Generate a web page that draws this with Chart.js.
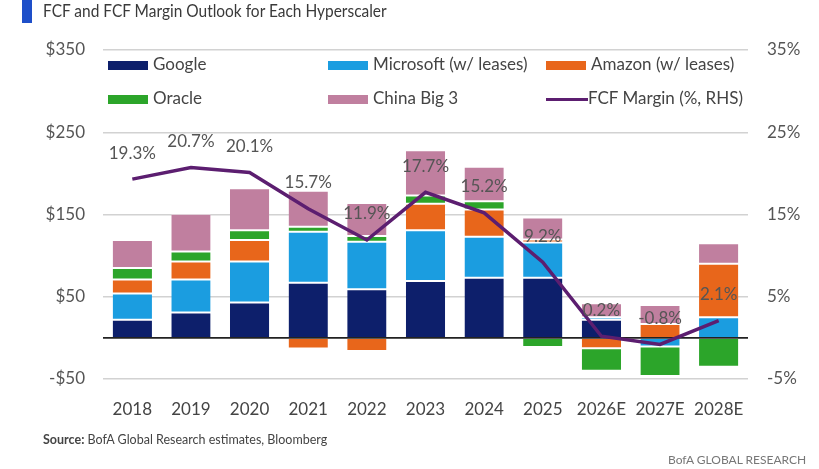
<!DOCTYPE html>
<html>
<head>
<meta charset="utf-8">
<script src="https://cdn.jsdelivr.net/npm/chart.js@4.4.1/dist/chart.umd.min.js"></script>
<style>
  html, body { margin:0; padding:0; background:#fff; }
  body { width:819px; height:469px; position:relative; overflow:hidden; font-family: Lato, "Open Sans", sans-serif; }
  #wrap { position:absolute; left:0; top:0; width:819px; height:469px; }
  #bar { position:absolute; left:22px; top:0; width:10px; height:23px; background:#1e4fc9; }
  #title { position:absolute; left:43px; top:0px; font-size:17px; color:#3a3a3a; line-height:22px; white-space:nowrap; transform:scaleX(0.91); transform-origin:0 0; }
  #legend { position:absolute; left:0; top:0; width:819px; height:120px; pointer-events:none; }
  .li { position:absolute; font-size:17px; color:#444; white-space:nowrap; line-height:20px; }
  .sw { position:absolute; width:40px; height:9px; }
  .ln { position:absolute; width:42px; height:3px; background:#5c1e70; }
  #source { position:absolute; left:43px; top:432px; font-size:12.5px; color:#444; white-space:nowrap; }
  #brand { position:absolute; left:668px; top:452px; font-size:12px; color:#777; white-space:nowrap; }
</style>
</head>
<body>
<div id="wrap"><canvas id="c" width="819" height="469"></canvas></div>
<div id="bar"></div>
<div id="title">FCF and FCF Margin Outlook for Each Hyperscaler</div>
<div id="legend"></div>
<div id="source"><b>Source:</b> BofA Global Research estimates, Bloomberg</div>
<div id="brand">BofA GLOBAL RESEARCH</div>
<script>
const categories = ["2018","2019","2020","2021","2022","2023","2024","2025","2026E","2027E","2028E"];
const google    = [22, 31, 43, 67, 59, 69, 73, 73, 22, 0, 0];
const microsoft = [32, 40, 50, 62, 58, 62, 50, 43, 3, -10.5, 25];
const amazon    = [17, 22, 26, -13, -16, 32, 33, 3.5, -12.5, 17, 65];
const oracle    = [14, 12, 12, 6, 7, 10, 10, -11, -27.5, -36, -35];
const china     = [34, 46, 51, 44, 40, 55, 42, 27, 17, 23, 25];
const fcfMargin = [19.3, 20.7, 20.1, 15.7, 11.9, 17.7, 15.2, 9.2, 0.2, -0.8, 2.1];
const leftTicks = [-50, 50, 150, 250, 350];
const rightTicks = [-5, 5, 15, 25, 35];

const seriesNames = ["Google", "Microsoft (w/ leases)", "Amazon (w/ leases)", "Oracle", "China Big 3", "FCF Margin (%, RHS)"];
const colors = ["#0d1f6b", "#1b9de0", "#e8661b", "#2ca52a", "#c07f9f", "#5c1e70"];

// HTML legend overlay
const legendPos = [[108,65],[328,65],[546,65],[108,99],[328,99],[546,99]];
const leg = document.getElementById('legend');
seriesNames.forEach((n,i)=>{
  const [x,y] = legendPos[i];
  const m = document.createElement('div');
  if (i === 5) { m.className='ln'; m.style.left=x+'px'; m.style.top=(y-1)+'px'; }
  else { m.className='sw'; m.style.left=x+'px'; m.style.top=(y-4)+'px'; m.style.background=colors[i]; }
  leg.appendChild(m);
  const t = document.createElement('div');
  t.className='li'; t.textContent=n; t.style.left=(x+(i===5?42:45))+'px'; t.style.top=(y-11)+'px';
  leg.appendChild(t);
});

const barData = [google, microsoft, amazon, oracle, china];
const datasets = barData.map((d,i)=>({
  type:'bar', label:seriesNames[i], data:d, backgroundColor:colors[i],
  borderColor:'rgba(255,255,255,0.75)', borderWidth:{top:1,bottom:1,left:0,right:0}, borderSkipped:false,
  stack:'s', yAxisID:'y', order:1,
  categoryPercentage:0.67, barPercentage:1
}));
datasets.push({
  type:'line', label:seriesNames[5], data:fcfMargin, borderColor:colors[5], backgroundColor:colors[5],
  borderWidth:3.5, pointRadius:0, tension:0, yAxisID:'y1', order:0
});

const zeroLine = {
  id:'zeroLine',
  beforeDatasetDraw(chart, args){
    if (args.index !== 5) return;
    const {ctx, chartArea} = chart;
    const y = chart.scales.y.getPixelForValue(0);
    ctx.save();
    ctx.strokeStyle='#222'; ctx.lineWidth=1.6;
    ctx.beginPath(); ctx.moveTo(chartArea.left, y); ctx.lineTo(chartArea.right, y); ctx.stroke();
    ctx.restore();
  }
};
const pctLabels = {
  id:'pctLabels',
  afterDatasetsDraw(chart){
    const meta = chart.getDatasetMeta(5);
    const ctx = chart.ctx;
    ctx.save();
    ctx.font = '17px Lato, "Open Sans", sans-serif';
    ctx.fillStyle = '#555';
    ctx.textAlign='center'; ctx.textBaseline='middle';
    meta.data.forEach((p,i)=>{
      ctx.fillText(fcfMargin[i].toFixed(1)+'%', p.x, p.y-26);
    });
    ctx.restore();
  }
};

new Chart(document.getElementById('c'), {
  data:{ labels:categories, datasets },
  options:{
    responsive:false, animation:false,
    layout:{ padding:{ top:50, bottom:50, left:0, right:0 } },
    plugins:{ legend:{display:false}, tooltip:{enabled:false} },
    scales:{
      x:{ stacked:true, grid:{display:false}, border:{display:false},
          ticks:{ color:'#444', font:{size:17, family:'Lato, "Open Sans", sans-serif'}, padding:12, maxRotation:0, autoSkip:false },
          afterFit(s){ s.height = 40; } },
      y:{ stacked:true, position:'left', min:-50, max:350,
          afterBuildTicks(s){ s.ticks = leftTicks.map(v=>({value:v})); },
          grid:{ color:'#d2d2d2', lineWidth:1.5, drawTicks:false }, border:{display:false},
          ticks:{ color:'#555', font:{size:17, family:'Lato, "Open Sans", sans-serif'}, padding:18,
                  callback:v=> (v<0?'-$':'$')+Math.abs(v) },
          afterFit(s){ s.width = 103; } },
      y1:{ position:'right', min:-5, max:35,
          afterBuildTicks(s){ s.ticks = rightTicks.map(v=>({value:v})); },
          grid:{ display:false, drawTicks:false }, border:{display:false},
          ticks:{ color:'#555', font:{size:17, family:'Lato, "Open Sans", sans-serif'}, padding:19,
                  callback:v=> v+'%' },
          afterFit(s){ s.width = 71; } }
    }
  },
  plugins:[zeroLine, pctLabels]
});
</script>
</body>
</html>
